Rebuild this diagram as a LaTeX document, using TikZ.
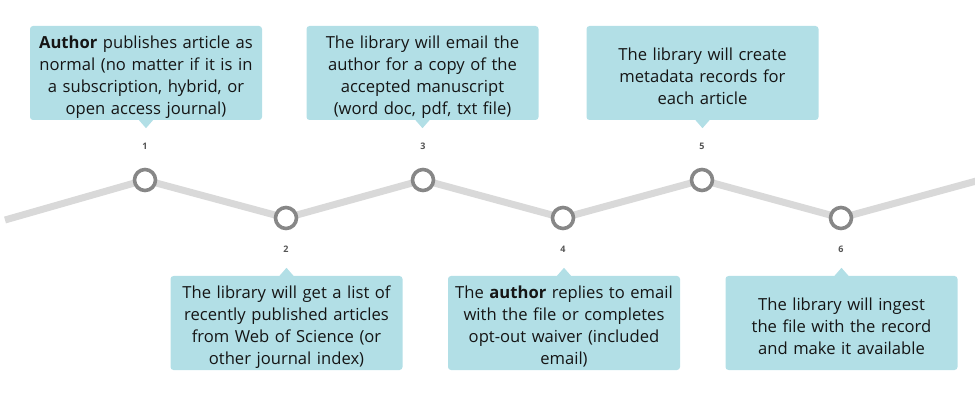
\documentclass[tikz,border=0pt]{standalone}
\usepackage{fontspec}
\setmainfont{Open Sans}
\usetikzlibrary{backgrounds}
\definecolor{cardfill}{HTML}{B2DFE6}
\definecolor{trackgray}{HTML}{D9D9D9}
\definecolor{dotgray}{HTML}{878787}
\definecolor{numgray}{HTML}{555555}
\definecolor{txt}{HTML}{151515}
\newcommand{\upstrut}{\rule{0pt}{20pt}}
\tikzset{
  card/.style={fill=cardfill, rounded corners=3pt, minimum width=232pt, minimum height=94pt,
    text width=228pt, align=center, inner sep=0pt, text=txt, font=\fontsize{16.6}{22}\selectfont},
  stepdot/.style={circle, draw=dotgray, line width=3.6pt, fill=white, minimum size=21pt, inner sep=0pt},
  track/.style={draw=trackgray, line width=7pt},
  stepnum/.style={text=numgray, font=\fontsize{9}{10}\selectfont\bfseries, inner sep=0pt},
}
\begin{document}
\begin{tikzpicture}[x=1pt,y=-1pt]
\useasboundingbox (0,0) rectangle (975,406);
\coordinate (start) at (5,220);
\coordinate (stop) at (980,180);
\node[stepdot] (n1) at (145,180) {};
\node[stepdot] (n2) at (286,218) {};
\node[stepdot] (n3) at (423,180) {};
\node[stepdot] (n4) at (563,218) {};
\node[stepdot] (n5) at (702,180) {};
\node[stepdot] (n6) at (841,218) {};
\begin{scope}[on background layer]
\draw[track] (start) -- (n1.center) -- (n2.center) -- (n3.center) -- (n4.center) -- (n5.center) -- (n6.center) -- (stop);
\end{scope}
\node[stepnum] (l1) at (145,146) {1};
\node[stepnum] (l2) at (286,249) {2};
\node[stepnum] (l3) at (423,146) {3};
\node[stepnum] (l4) at (563,249) {4};
\node[stepnum] (l5) at (702,146) {5};
\node[stepnum] (l6) at (841,249) {6};
\node[card] (b1) at (146,73) {\upstrut\textbf{Author} publishes article as\\ normal (no matter if it is in\\ a subscription, hybrid, or\\ open access journal)};
\node[card] (b3) at (422.5,73) {\upstrut The library will email the\\ author for a copy of the\\ accepted manuscript\\ (word doc, pdf, txt file)};
\node[card] (b5) at (702.5,73) {\upstrut The library will create\\ metadata records for\\ each article};
\node[card] (b2) at (286.5,323) {\upstrut The library will get a list of\\ recently published articles\\ from Web of Science (or\\ other journal index)};
\node[card] (b4) at (564,323) {\upstrut The \textbf{author} replies to email\\ with the file or completes\\ opt-out waiver (included\\ email)};
\node[card] (b6) at (841.5,323) {\upstrut The library will ingest\\ the file with the record\\ and make it available};
\foreach \b in {b1,b3,b5}{
  \fill[cardfill] ([xshift=-7pt]\b.south) -- ([yshift=-8pt]\b.south) -- ([xshift=7pt]\b.south) -- cycle;
}
\foreach \b in {b2,b4,b6}{
  \fill[cardfill] ([xshift=-7pt]\b.north) -- ([yshift=8pt]\b.north) -- ([xshift=7pt]\b.north) -- cycle;
}
\end{tikzpicture}
\end{document}
